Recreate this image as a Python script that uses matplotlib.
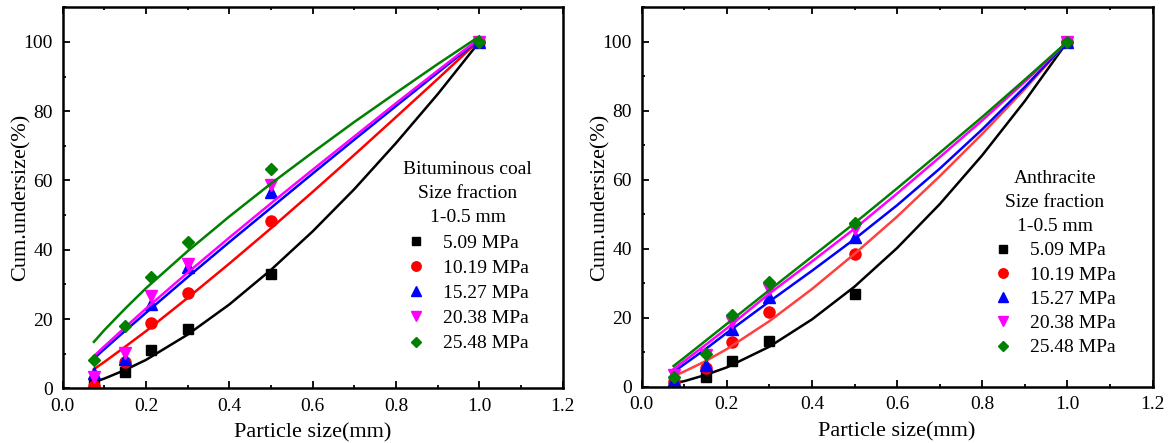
import numpy as np
import matplotlib.pyplot as plt
from matplotlib.ticker import MultipleLocator, FormatStrFormatter

plt.rcParams['font.family'] = ['Liberation Serif', 'DejaVu Serif']

# sieve sizes (mm)
size_mm = [0.075, 0.15, 0.212, 0.3, 0.5, 1.0]
pressures = ['5.09 MPa', '10.19 MPa', '15.27 MPa', '20.38 MPa', '25.48 MPa']

# measured points, bituminous coal
bit_509 = [1.5, 4.6, 11.1, 17.0, 33.0, 100]
bit_1019 = [0.8, 7.5, 18.8, 27.4, 48.3, 100]
bit_1527 = [4.5, 8.5, 24.3, 34.9, 56.7, 100]
bit_2038 = [3.4, 10.1, 26.7, 35.8, 58.7, 100]
bit_2548 = [8.2, 18.1, 32.0, 42.3, 63.2, 100]

# measured points, anthracite
ant_509 = [1.0, 2.9, 7.5, 13.3, 26.9, 100]
ant_1019 = [1.4, 5.3, 13.0, 21.7, 38.4, 100]
ant_1527 = [1.9, 6.3, 16.6, 26.1, 43.5, 100]
ant_2038 = [3.3, 9.2, 18.8, 28.2, 45.6, 100]
ant_2548 = [2.9, 9.4, 20.8, 30.4, 47.4, 100]

# fitted curves
fit_x = [0.075, 0.1, 0.15, 0.2, 0.3, 0.4, 0.5, 0.6, 0.7, 0.8, 0.9, 1.0]
bit_fit_509 = [1.8, 2.8, 5.3, 8.2, 15.5, 24.2, 34.2, 45.3, 57.5, 70.8, 84.9, 100.0]
bit_fit_1019 = [5.5, 7.6, 12.0, 16.5, 26.1, 36.0, 46.2, 56.7, 67.4, 78.3, 89.3, 100.5]
bit_fit_1527 = [8.6, 11.3, 16.6, 21.8, 32.1, 42.2, 52.1, 62.0, 71.8, 81.5, 91.1, 100.7]
bit_fit_2038 = [9.3, 12.1, 17.6, 23.0, 33.4, 43.5, 53.4, 63.1, 72.7, 82.3, 91.7, 101.0]
bit_fit_2548 = [13.4, 16.8, 23.0, 28.9, 39.6, 49.6, 59.1, 68.1, 76.9, 85.3, 93.6, 101.6]

ant_fit_509 = [1.0, 1.6, 3.4, 5.6, 11.6, 19.5, 29.0, 40.2, 52.9, 67.1, 82.8, 100.0]
ant_fit_1019 = [3.0, 4.4, 7.4, 10.9, 19.0, 28.3, 38.5, 49.3, 61.0, 73.3, 86.3, 100.0]
ant_fit_1527 = [4.3, 6.5, 10.9, 15.6, 24.7, 33.6, 42.8, 52.6, 63.2, 74.6, 86.9, 100.0]
ant_fit_2038 = [5.1, 7.4, 12.1, 16.9, 27.0, 36.3, 45.8, 56.0, 66.5, 77.2, 88.4, 100.0]
ant_fit_2548 = [6.0, 8.4, 13.3, 18.2, 28.0, 37.7, 47.4, 57.5, 67.8, 78.2, 89.0, 100.0]

colores = ['black', 'red', 'blue', 'magenta', 'green']
colores_lin_ant = ['black', '#ff4040', 'blue', 'magenta', 'green']
marcadores = ['s', 'o', '^', 'v', 'D']
tam = [7, 8, 8, 8, 6.5]


def panel(ax, puntos, ajustes, col_lin, titulo, pos_leg, esp):
    for i in range(5):
        ax.plot(size_mm, puntos[i], linestyle='none', marker=marcadores[i],
                color=colores[i], markersize=tam[i], label=pressures[i])
        ax.plot(fit_x, ajustes[i], color=col_lin[i], linewidth=1.8)
    ax.set_xlim(0, 1.2)
    ax.set_ylim(0, 110)
    ax.xaxis.set_major_locator(MultipleLocator(0.2))
    ax.xaxis.set_minor_locator(MultipleLocator(0.1))
    ax.xaxis.set_major_formatter(FormatStrFormatter('%.1f'))
    ax.yaxis.set_major_locator(MultipleLocator(20))
    ax.yaxis.set_minor_locator(MultipleLocator(10))
    ax.tick_params(which='both', direction='in', labelsize=14, width=1.3)
    ax.tick_params(which='major', length=5, pad=7)
    ax.tick_params(which='minor', length=2.5)
    ax.tick_params(axis='x', which='both', top=True)
    for lado in ax.spines.values():
        lado.set_linewidth(1.8)
    ax.set_xlabel('Particle size(mm)', fontsize=16, labelpad=6)
    ax.set_ylabel('Cum.undersize(%)', fontsize=16, labelpad=-5)
    leg = ax.legend(loc='upper center', bbox_to_anchor=pos_leg, frameon=False,
                    fontsize=14, title=titulo, title_fontsize=14,
                    handlelength=1.0, handletextpad=0.9, labelspacing=esp,
                    borderpad=0, markerscale=0.85)
    leg.get_title().set_multialignment('center')
    leg.get_title().set_linespacing(1.55)


fig = plt.figure(figsize=(11.69, 4.43), dpi=100)
ax1 = fig.add_axes([0.0536, 0.1235, 0.4277, 0.860])
ax2 = fig.add_axes([0.5489, 0.1271, 0.4370, 0.8565])

panel(ax1, [bit_509, bit_1019, bit_1527, bit_2038, bit_2548],
      [bit_fit_509, bit_fit_1019, bit_fit_1527, bit_fit_2038, bit_fit_2548],
      colores, 'Bituminous coal\nSize fraction\n1-0.5 mm', (0.81, 0.622), 0.39)
panel(ax2, [ant_509, ant_1019, ant_1527, ant_2038, ant_2548],
      [ant_fit_509, ant_fit_1019, ant_fit_1527, ant_fit_2038, ant_fit_2548],
      colores_lin_ant, 'Anthracite\nSize fraction\n1-0.5 mm', (0.809, 0.597), 0.34)

plt.savefig('out.png', dpi=100)
